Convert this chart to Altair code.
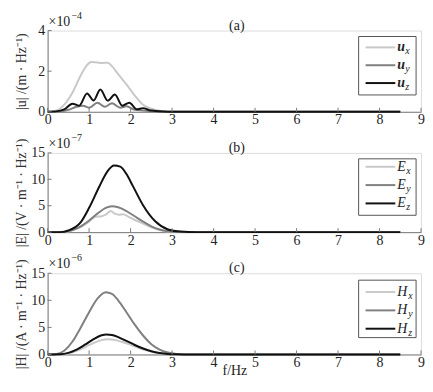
import altair as alt
import pandas as pd

FONT = "Liberation Serif"
AXIS_GRAY = "#7a7a7a"
TXT = "#222222"

# ---------------- data (values in units of the axis multiplier) ----------------
x_ticks = [0, 1, 2, 3, 4, 5, 6, 7, 8, 9]

# panel (a): |u| (x 1e-4 m/Hz)
f_ux = [0, 0.2, 0.4, 0.6, 0.8, 0.95, 1.05, 1.2, 1.3, 1.45, 1.55, 1.7, 1.9, 2.1, 2.3, 2.5, 2.7, 2.9, 3.1, 8.5]
ux = [0, 0.05, 0.35, 0.95, 1.8, 2.3, 2.45, 2.43, 2.4, 2.42, 2.25, 1.85, 1.35, 0.8, 0.35, 0.15, 0.05, 0.01, 0, 0]
f_uy = [0, 0.3, 0.5, 0.7, 0.85, 1.0, 1.2, 1.38, 1.55, 1.75, 1.9, 2.1, 2.3, 2.5, 2.7, 8.5]
uy = [0, 0.02, 0.1, 0.25, 0.3, 0.2, 0.45, 0.25, 0.42, 0.2, 0.27, 0.1, 0.06, 0.02, 0, 0]
f_uz = [0, 0.2, 0.4, 0.6, 0.76, 0.95, 1.11, 1.27, 1.45, 1.62, 1.8, 1.97, 2.15, 2.3, 2.45, 2.6, 2.8, 3.0, 8.5]
uz = [0, 0.02, 0.12, 0.4, 0.3, 0.9, 0.56, 1.1, 0.55, 0.85, 0.3, 0.45, 0.12, 0.18, 0.08, 0.04, 0.01, 0, 0]

# panel (b): |E| (x 1e-7 V/m/Hz)
f_ex = [0, 0.4, 0.6, 0.8, 1.0, 1.15, 1.3, 1.4, 1.52, 1.62, 1.72, 1.82, 1.95, 2.1, 2.3, 2.5, 2.7, 2.9, 3.1, 8.5]
ex = [0, 0.05, 0.35, 1.0, 2.0, 2.9, 3.0, 3.3, 4.0, 3.5, 3.3, 3.4, 2.9, 2.3, 1.6, 0.9, 0.4, 0.1, 0, 0]
f_ey = [0, 0.4, 0.6, 0.8, 1.0, 1.2, 1.4, 1.55, 1.7, 1.9, 2.1, 2.3, 2.5, 2.7, 2.9, 3.1, 3.3, 8.5]
ey = [0, 0.05, 0.4, 1.1, 2.2, 3.5, 4.6, 4.9, 4.7, 4.0, 3.0, 2.0, 1.1, 0.5, 0.15, 0.03, 0, 0]
f_ez = [0, 0.3, 0.5, 0.8, 1.0, 1.25, 1.45, 1.6, 1.75, 1.9, 2.05, 2.3, 2.6, 2.9, 3.2, 3.6, 8.5]
ez = [0, 0, 0.3, 1.9, 4.6, 8.7, 11.6, 12.6, 12.4, 11.0, 8.8, 5.1, 2.0, 0.5, 0.1, 0, 0]

# panel (c): |H| (x 1e-6 A/m/Hz)
f_hx = [0, 0.3, 0.5, 0.7, 0.9, 1.1, 1.3, 1.45, 1.6, 1.8, 2.0, 2.2, 2.4, 2.6, 2.8, 3.0, 3.2, 8.5]
hx = [0, 0.02, 0.2, 0.65, 1.35, 2.1, 2.65, 2.8, 2.7, 2.3, 1.8, 1.2, 0.7, 0.35, 0.12, 0.03, 0, 0]
f_hy = [0, 0.2, 0.4, 0.6, 0.8, 1.0, 1.2, 1.4, 1.55, 1.7, 1.9, 2.1, 2.3, 2.5, 2.7, 2.9, 3.1, 3.4, 8.5]
hy = [0, 0.05, 0.7, 2.4, 5.0, 7.8, 10.3, 11.5, 11.2, 10.0, 7.8, 5.5, 3.5, 1.9, 0.9, 0.35, 0.1, 0, 0]
f_hz = [0, 0.3, 0.5, 0.7, 0.9, 1.1, 1.3, 1.42, 1.55, 1.7, 1.9, 2.1, 2.3, 2.5, 2.7, 2.9, 3.1, 3.3, 8.5]
hz = [0, 0.03, 0.3, 0.9, 1.8, 2.8, 3.55, 3.7, 3.6, 3.2, 2.5, 1.75, 1.1, 0.6, 0.28, 0.1, 0.03, 0, 0]

COLORS = ["#c9c9c9", "#808080", "#111111"]
SUBS = ["x", "y", "z"]

one = pd.DataFrame({"k": [0]})


def make_df(names, fs, vs):
    rows = []
    for n, f, v in zip(names, fs, vs):
        for a, b in zip(f, v):
            rows.append({"f": a, "v": b, "s": n})
    return pd.DataFrame(rows)


def txt(text, x, y, size=14, style="normal", weight="normal", align="left", baseline="alphabetic", color=TXT):
    return alt.Chart(one).mark_text(
        font=FONT, fontSize=size, fontStyle=style, fontWeight=weight,
        align=align, baseline=baseline, color=color,
    ).encode(x=alt.value(x), y=alt.value(y), text=alt.value(text))


def panel(letter, fs, vs, ymax, yticks, ytitle, exponent, label, height,
          leg_y, show_xtitle, sub_dx, main_weight="normal"):
    names = [f"{letter}{s}" for s in SUBS]
    df = make_df(names, fs, vs)
    xax = alt.Axis(
        values=[float(t) for t in x_ticks], ticks=False, tickSize=0, labelPadding=1, labelFontSize=14,
        labelFont=FONT, labelColor=TXT, domainColor=AXIS_GRAY, domainWidth=1,
        grid=False, labelFlush=False, labelOverlap=False,
        title="f/Hz" if show_xtitle else "",
        titleFont=FONT, titleFontSize=14, titleFontWeight="normal", titleColor=TXT,
        titleY=16, titleBaseline="middle",
    )
    yax = alt.Axis(
        values=[float(t) for t in yticks], tickCount=len(yticks), ticks=False, tickSize=0,
        labelPadding=3, labelFontSize=14,
        labelFont=FONT, labelColor=TXT, domainColor=AXIS_GRAY, domainWidth=1,
        grid=False, labelFlush=False, labelOverlap=False, labelBound=False,
        title=ytitle, titleFont=FONT, titleFontSize=14,
        titleFontWeight="normal", titleColor="#333333", titleX=-26, titleY=height / 2,
        titleAngle=270, titleAlign="center", titleBaseline="middle",
    )
    xs = alt.Scale(domain=[0, 9], nice=False, zero=False)
    ys = alt.Scale(domain=[0, ymax], nice=False)
    lines = alt.Chart(df).mark_line(strokeWidth=2, interpolate="monotone").encode(
        x=alt.X("f:Q", scale=xs, axis=xax),
        y=alt.Y("v:Q", scale=ys, axis=yax),
        color=alt.Color("s:N", scale=alt.Scale(domain=names, range=COLORS), legend=None),
    )
    # inward tick marks drawn through the same scales
    xt = alt.Chart(pd.DataFrame({"f": x_ticks})).mark_rule(color=AXIS_GRAY, strokeWidth=1).encode(
        x=alt.X("f:Q", scale=xs, axis=xax), y=alt.value(height), y2=alt.value(height - 4)
    )
    yt = alt.Chart(pd.DataFrame({"v": yticks})).mark_rule(color=AXIS_GRAY, strokeWidth=1).encode(
        y=alt.Y("v:Q", scale=ys, axis=yax), x=alt.value(0), x2=alt.value(4)
    )
    layers = [lines, xt, yt]
    # multiplier and panel label
    layers.append(txt("×10", 1, -5, size=14))
    layers.append(txt(exponent, 24, -12, size=10))
    layers.append(txt(label, 191, -5, size=14, align="center", baseline="middle"))
    # legend box
    box = alt.Chart(one).mark_rect(fill="white", stroke="#555555", strokeWidth=1).encode(
        x=alt.value(314), x2=alt.value(372), y=alt.value(leg_y[0]), y2=alt.value(leg_y[1])
    )
    layers.append(box)
    for i, (c, s) in enumerate(zip(COLORS, SUBS)):
        yy = leg_y[2] + i * leg_y[3]
        layers.append(
            alt.Chart(one).mark_rule(color=c, strokeWidth=2).encode(
                x=alt.value(321), x2=alt.value(351), y=alt.value(yy)
            )
        )
        layers.append(txt(letter, 353, yy + 4, size=14, style="italic", weight=main_weight))
        layers.append(txt(s, 353 + sub_dx, yy + 7, size=10, style="italic"))
    return alt.layer(*layers).properties(width=377, height=height)


pa = panel("u", [f_ux, f_uy, f_uz], [ux, uy, uz], 4, [0, 2, 4], "|u| /(m · Hz⁻¹)", "−4", "(a)", 82,
           (6, 65, 17, 18), False, 8, main_weight="bold")
pb = panel("E", [f_ex, f_ey, f_ez], [ex, ey, ez], 15, [0, 5, 10, 15], "|E| /(V · m⁻¹ · Hz⁻¹)", "−7", "(b)", 80,
           (6, 63, 14, 18.5), False, 9)
pc = panel("H", [f_hx, f_hy, f_hz], [hx, hy, hz], 15, [0, 5, 10, 15], "|H| /(A · m⁻¹ · Hz⁻¹)", "−6", "(c)", 82,
           (7, 65, 19, 18.5), True, 11)

chart = alt.vconcat(pa, pb, pc, spacing=41.5, bounds="flush").properties(
    padding={"left": 6, "top": 0, "right": 0, "bottom": 0}
).configure_view(stroke=None).configure(background="white")

chart.save("out.html", embed_options={"renderer": "svg", "actions": False})
